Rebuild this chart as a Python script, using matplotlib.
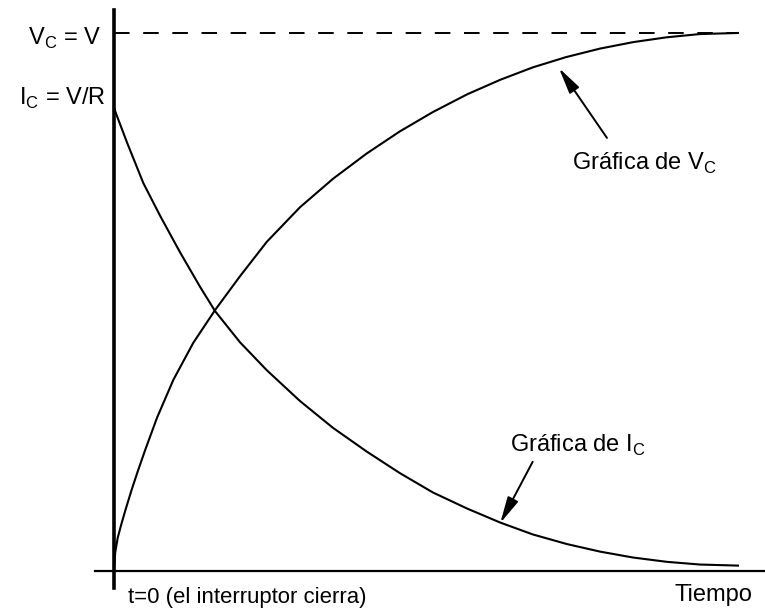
import matplotlib
matplotlib.use("Agg")
import matplotlib.pyplot as plt
from matplotlib import font_manager

# time in arbitrary units, values as a fraction of V (or V/R)
vc_t = [0.0, 0.02, 0.06, 0.12, 0.18, 0.28, 0.38, 0.50, 0.69, 0.95, 1.27, 1.62,
        2.02, 2.45, 2.98, 3.51, 4.05, 4.58, 5.11, 5.66, 6.19, 6.71, 7.24, 7.79,
        8.32, 8.86, 9.39, 10.0]
vc_v = [0.0, 0.035, 0.062, 0.088, 0.112, 0.150, 0.185, 0.225, 0.285, 0.355,
        0.424, 0.485, 0.548, 0.612, 0.676, 0.729, 0.776, 0.817, 0.853, 0.886,
        0.913, 0.936, 0.955, 0.971, 0.983, 0.992, 0.998, 1.0]

ic_t = [0.0, 0.03, 0.21, 0.47, 0.74, 1.06, 1.38, 1.62, 2.02, 2.45, 2.98, 3.51,
        4.05, 4.58, 5.11, 5.66, 6.19, 6.71, 7.26, 7.79, 8.32, 8.86, 9.39, 10.0]
ic_v = [0.862, 0.851, 0.796, 0.721, 0.660, 0.592, 0.528, 0.483, 0.425, 0.373,
        0.316, 0.266, 0.222, 0.182, 0.146, 0.116, 0.090, 0.068, 0.050, 0.036,
        0.025, 0.017, 0.012, 0.010]

steady_t = [0.0, 10.0]
steady_v = [1.0, 1.0]

names = {f.name for f in font_manager.fontManager.ttflist}
family = "Liberation Sans Narrow" if "Liberation Sans Narrow" in names else "Liberation Sans"
plt.rcParams["font.family"] = [family, "DejaVu Sans"]
fs = 21 if family == "Liberation Sans Narrow" else 17

fig = plt.figure(figsize=(7.65, 6.08), dpi=100)
ax = fig.add_axes([0, 0, 1, 1])
ax.set_xlim(-1.827, 10.433)
ax.set_ylim(-0.0688, 1.0613)

ax.plot(vc_t, vc_v, color="black", lw=1.5, solid_joinstyle="round")
ax.plot(ic_t, ic_v, color="black", lw=1.5, solid_joinstyle="round")
ax.plot(steady_t, steady_v, color="black", lw=1.4, dashes=(8, 7))

for side in ("top", "right"):
    ax.spines[side].set_visible(False)
ax.spines["left"].set_position(("data", 0))
ax.spines["left"].set_bounds(-0.032, 1.043)
ax.spines["left"].set_linewidth(2.6)
ax.spines["bottom"].set_position(("data", 0))
ax.spines["bottom"].set_bounds(-0.30, 10.43)
ax.spines["bottom"].set_linewidth(1.6)
ax.set_xticks([])
ax.set_yticks([])
ax.patch.set_visible(False)

ax.text(-0.21, 0.978, r"V$_\mathregular{C}$ = V", fontsize=fs, ha="right", va="baseline")
ax.text(-0.14, 0.866, r"I$_\mathregular{C}$ = V/R", fontsize=fs, ha="right", va="baseline")
ax.text(0.22, -0.0595, "t=0 (el interruptor cierra)", fontsize=fs * 0.94,
        ha="left", va="baseline")
ax.text(8.99, -0.056, "Tiempo", fontsize=fs, ha="left", va="baseline")
ax.text(7.34, 0.745, r"Gráfica de V$_\mathregular{C}$", fontsize=fs, ha="left", va="baseline")
ax.text(6.35, 0.221, r"Gráfica de I$_\mathregular{C}$", fontsize=fs, ha="left", va="baseline")

arrow = dict(arrowstyle="-|>,head_length=1.6,head_width=0.35", color="black", lw=1.4,
             shrinkA=0, shrinkB=0)
ax.annotate("", xy=(7.13, 0.935), xytext=(7.90, 0.805), arrowprops=arrow)
ax.annotate("", xy=(6.19, 0.089), xytext=(6.71, 0.203), arrowprops=arrow)

fig.savefig("out.png", dpi=100)
